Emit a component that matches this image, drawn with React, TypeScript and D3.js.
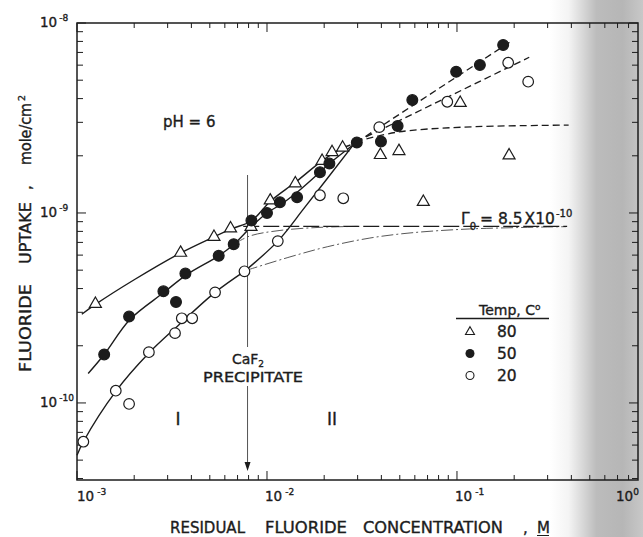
import * as d3 from 'd3';

const W = 643;
const H = 537;

// legend / series
const temps = ['80', '50', '20'];

// 80 C, open triangles
const conc80 = [1.25e-3, 3.51e-3, 5.26e-3, 6.43e-3, 8.24e-3, 1.04e-2, 1.41e-2, 1.95e-2, 2.2e-2, 2.5e-2, 3.95e-2, 4.95e-2, 6.65e-2, 1.04e-1, 1.88e-1];
const uptake80 = [3.34e-10, 6.21e-10, 7.52e-10, 8.34e-10, 8.49e-10, 1.17e-9, 1.44e-9, 1.89e-9, 2.1e-9, 2.22e-9, 2.03e-9, 2.13e-9, 1.15e-9, 3.82e-9, 2.02e-9];

// 50 C, filled circles
const conc50 = [1.39e-3, 1.88e-3, 2.85e-3, 3.32e-3, 3.72e-3, 5.57e-3, 6.68e-3, 8.28e-3, 1.0e-2, 1.17e-2, 1.44e-2, 1.9e-2, 2.13e-2, 2.97e-2, 3.98e-2, 4.87e-2, 5.82e-2, 9.9e-2, 1.32e-1, 1.75e-1];
const uptake50 = [1.8e-10, 2.85e-10, 3.87e-10, 3.4e-10, 4.8e-10, 5.95e-10, 6.85e-10, 9.13e-10, 1.0e-9, 1.14e-9, 1.21e-9, 1.64e-9, 1.82e-9, 2.35e-9, 2.38e-9, 2.87e-9, 3.93e-9, 5.54e-9, 6.01e-9, 7.66e-9];

// 20 C, open circles
const conc20 = [1.08e-3, 1.6e-3, 1.88e-3, 2.39e-3, 3.28e-3, 3.56e-3, 4.04e-3, 5.33e-3, 7.61e-3, 1.14e-2, 1.9e-2, 2.52e-2, 3.9e-2, 8.89e-2, 1.86e-1, 2.37e-1];
const uptake20 = [6.25e-11, 1.16e-10, 9.88e-11, 1.85e-10, 2.33e-10, 2.79e-10, 2.79e-10, 3.82e-10, 4.93e-10, 7.11e-10, 1.24e-9, 1.195e-9, 2.83e-9, 3.85e-9, 6.18e-9, 4.91e-9];

// hand drawn curves [conc, uptake]
const fit80: [number, number][] = [[1.06e-3, 2.93e-10], [1.25e-3, 3.3e-10], [2.0e-3, 4.45e-10], [3.5e-3, 6.15e-10], [5.2e-3, 7.45e-10], [6.5e-3, 8.25e-10], [8.3e-3, 9.1e-10], [1.04e-2, 1.15e-9], [1.41e-2, 1.45e-9], [1.95e-2, 1.88e-9], [2.5e-2, 2.2e-9], [2.75e-2, 2.28e-9]];
const fit50: [number, number][] = [[1.145e-3, 1.43e-10], [1.39e-3, 1.8e-10], [1.9e-3, 2.75e-10], [2.85e-3, 3.8e-10], [3.8e-3, 4.75e-10], [5.57e-3, 5.95e-10], [6.7e-3, 6.85e-10], [8.3e-3, 8.5e-10], [1.0e-2, 1.0e-9], [1.2e-2, 1.12e-9], [1.5e-2, 1.33e-9], [1.9e-2, 1.64e-9], [2.13e-2, 1.82e-9], [2.95e-2, 2.35e-9]];
const fit20a: [number, number][] = [[1.0e-3, 5.3e-11], [1.08e-3, 6.25e-11], [1.6e-3, 1.15e-10], [2.39e-3, 1.83e-10], [3.4e-3, 2.55e-10], [5.33e-3, 3.82e-10], [7.61e-3, 4.93e-10]];
const fit20b: [number, number][] = [[7.61e-3, 4.93e-10], [1.14e-2, 7.11e-10], [1.58e-2, 1.07e-9], [2.9e-2, 2.34e-9]];

const dash50: [number, number][] = [[2.95e-2, 2.35e-9], [1.96e-1, 8.1e-9]];
const dash20: [number, number][] = [[2.94e-2, 2.37e-9], [2.4e-1, 6.6e-9]];
const dash80: [number, number][] = [[2.94e-2, 2.37e-9], [4.8e-2, 2.66e-9], [1.07e-1, 2.83e-9], [3.87e-1, 2.9e-9]];

const ext50: [number, number][] = [[6.7e-3, 6.85e-10], [8.14e-3, 7.57e-10], [1.17e-2, 8.09e-10], [1.9e-2, 8.4e-10], [3.0e-2, 8.5e-10]];
const ext20: [number, number][] = [[7.74e-3, 4.98e-10], [1.32e-2, 5.87e-10], [2.09e-2, 6.65e-10], [3.48e-2, 7.38e-10], [5.66e-2, 7.85e-10], [1.17e-1, 8.24e-10], [3.75e-1, 8.47e-10]];

const gamma0 = 8.5e-10;
const gammaSpan = [7.5e-3, 3.8e-1];
const caF2Conc = 7.9e-3;

const xTicks = [1e-3, 1e-2, 1e-1];
const xTickExp = ['-3', '-2', '-1'];
const yTicks = [1e-8, 1e-9, 1e-10];
const yTickExp = ['-8', '-9', '-10'];

const ink = '#1c1c1c';
const font = "'DejaVu Sans', sans-serif";

export default function App() {
  const x = d3.scaleLog().domain([1e-3, 0.897]).range([77, 638]);
  const y = d3.scaleLog().domain([3.93e-11, 1e-8]).range([480, 23]);
  const [x0, x1] = x.range();
  const [y0, y1] = y.range();

  const line = d3
    .line<[number, number]>()
    .x((d) => x(d[0]))
    .y((d) => y(d[1]))
    .curve(d3.curveCatmullRom.alpha(0.5));

  // minor + major ticks
  const xMinor: number[] = [];
  for (let e = -3; e <= -1; e++) for (let k = 1; k <= 9; k++) xMinor.push(k * Math.pow(10, e));
  const yMinor: number[] = [];
  for (let e = -11; e <= -9; e++) for (let k = 1; k <= 9; k++) yMinor.push(k * Math.pow(10, e));
  const xt = xMinor.filter((v) => v >= 1e-3 && v <= 0.897);
  const yt = yMinor.filter((v) => v >= 3.93e-11 && v <= 1e-8).concat([1e-8]);
  const isMajor = (v: number) => Math.abs(Math.log10(v) - Math.round(Math.log10(v))) < 1e-6;

  const tri = (cx: number, cy: number, s: number) => {
    const h = (s * Math.sqrt(3)) / 2;
    return `M${cx},${cy - h * 0.62}L${cx + s / 2},${cy + h * 0.38}L${cx - s / 2},${cy + h * 0.38}Z`;
  };

  const cx = x(caF2Conc);
  // scanned print looks heavier than plain svg text
  const heavy = { stroke: ink, strokeWidth: 0.35 };

  return (
    <svg width={W} height={H} style={{ display: 'block', position: 'absolute', left: 0, top: 0 }} fontFamily={font}>
      <defs>
        <linearGradient id="shade" x1="0" x2="1" y1="0" y2="0">
          <stop offset="0" stopColor="#ffffff" />
          <stop offset="0.2" stopColor="#f4f4f4" />
          <stop offset="0.5" stopColor="#bcbcbc" />
          <stop offset="0.78" stopColor="#b6b6b6" />
          <stop offset="1" stopColor="#c8c8c8" />
        </linearGradient>
      </defs>
      <rect width={W} height={H} fill="#fff" />
      <rect x={550} y={0} width={W - 550} height={H} fill="url(#shade)" />

      {/* frame */}
      <rect x={x0} y={y1} width={x1 - x0} height={y0 - y1} fill="none" stroke={ink} strokeWidth={1.5} />

      {/* ticks */}
      <g stroke={ink} strokeWidth={1}>
        {xt.map((v, i) => {
          const L = isMajor(v) ? 9 : 5;
          return (
            <g key={'xt' + i}>
              <line x1={x(v)} x2={x(v)} y1={y0} y2={y0 - L} />
              <line x1={x(v)} x2={x(v)} y1={y1} y2={y1 + L} />
            </g>
          );
        })}
        {yt.map((v, i) => {
          const L = isMajor(v) ? 9 : 6;
          return (
            <g key={'yt' + i}>
              <line x1={x0} x2={x0 + L} y1={y(v)} y2={y(v)} />
              <line x1={x1} x2={x1 - L} y1={y(v)} y2={y(v)} />
            </g>
          );
        })}
      </g>

      {/* tick labels */}
      <g fill={ink} fontSize={13.5} {...heavy}>
        {xTicks.map((v, i) => (
          <text key={'xl' + i} x={x(v) - 2 + (i === 0 ? 2 : 0)} y={501}>
            10<tspan dx={3} dy={-6} fontSize={9}>{xTickExp[i]}</tspan>
          </text>
        ))}
        <text x={x1 - 22} y={501}>
          10<tspan dy={-6} fontSize={9}>0</tspan>
        </text>
        {yTicks.map((v, i) => (
          <text key={'yl' + i} x={40} y={y(v) + 4}>
            10<tspan dx={2} dy={-6} fontSize={9}>{yTickExp[i]}</tspan>
          </text>
        ))}
      </g>

      {/* axis titles */}
      <g fill={ink} fontSize={15} {...heavy}>
        <text x={170} y={533} textLength={75} lengthAdjust="spacingAndGlyphs">RESIDUAL</text>
        <text x={265} y={533} textLength={82} lengthAdjust="spacingAndGlyphs">FLUORIDE</text>
        <text x={363} y={533} textLength={140} lengthAdjust="spacingAndGlyphs">CONCENTRATION</text>
        <text x={523} y={533}>,</text>
        <text x={537} y={533}>M</text>
        <line x1={537} x2={549} y1={535.5} y2={535.5} stroke={ink} strokeWidth={1} />
        <g transform="translate(31,0) rotate(-90)">
          <text x={-372} y={0} textLength={88} lengthAdjust="spacingAndGlyphs">FLUORIDE</text>
          <text x={-264} y={0} textLength={62} lengthAdjust="spacingAndGlyphs">UPTAKE</text>
          <text x={-190} y={0}>,</text>
          <text x={-165} y={0} textLength={62} lengthAdjust="spacingAndGlyphs">mole/cm</text>
          <text x={-101} y={-6} fontSize={9.5}>2</text>
        </g>
      </g>

      {/* extrapolated thin curves */}
      <g fill="none" stroke="#444" strokeWidth={0.9} strokeDasharray="12,3,2,3">
        <path d={line(ext50) ?? ''} />
        <path d={line(ext20) ?? ''} />
      </g>
      <line
        x1={x(gammaSpan[0])}
        x2={x(gammaSpan[1])}
        y1={y(gamma0)}
        y2={y(gamma0)}
        stroke={ink}
        strokeWidth={1.1}
        strokeDasharray="16,4"
      />

      {/* solid fits */}
      <g fill="none" stroke={ink} strokeWidth={1.4}>
        <path d={line(fit80) ?? ''} />
        <path d={line(fit50) ?? ''} />
        <path d={line(fit20a) ?? ''} />
        <path d={line(fit20b) ?? ''} />
      </g>

      {/* dashed region III */}
      <g fill="none" stroke={ink} strokeWidth={1.3} strokeDasharray="7,4">
        <path d={line(dash50) ?? ''} />
        <path d={line(dash20) ?? ''} />
        <path d={line(dash80) ?? ''} />
      </g>

      {/* CaF2 precipitate marker */}
      <g stroke="#555" strokeWidth={1}>
        <line x1={cx} x2={cx} y1={175} y2={347} />
        <line x1={cx} x2={cx} y1={386} y2={463} />
      </g>
      <path d={`M${cx - 3},${462}L${cx + 3},${462}L${cx},${471}Z`} fill={ink} />

      {/* markers */}
      <g stroke={ink} strokeWidth={1.2}>
        {conc80.map((c, i) => (
          <path key={'t' + i} d={tri(x(c), y(uptake80[i]), 12)} fill="#fff" />
        ))}
        {conc50.map((c, i) => (
          <circle key={'f' + i} cx={x(c)} cy={y(uptake50[i])} r={5.4} fill={ink} />
        ))}
        {conc20.map((c, i) => (
          <circle key={'o' + i} cx={x(c)} cy={y(uptake20[i])} r={5.3} fill="#fff" />
        ))}
      </g>

      {/* annotations */}
      <g fill={ink} {...heavy}>
        <text x={163} y={127} fontSize={15}>pH = 6</text>
        <text x={248} y={364} fontSize={14} textAnchor="middle">
          CaF<tspan dy={3} fontSize={9}>2</tspan>
        </text>
        <text x={253} y={382} fontSize={14} textAnchor="middle" textLength={100} lengthAdjust="spacingAndGlyphs">PRECIPITATE</text>
        <text x={178} y={425} fontSize={17} textAnchor="middle">I</text>
        <text x={332} y={425} fontSize={17} textAnchor="middle">II</text>
        <text x={461} y={224} fontSize={15.5}>
          Γ<tspan dy={6} fontSize={10}>0</tspan>
          <tspan dy={-6} dx={4}>= 8.5</tspan>
          <tspan dx={2}>X</tspan>
          <tspan>10</tspan>
          <tspan dy={-7} dx={1} fontSize={10}>-10</tspan>
        </text>
      </g>

      {/* legend */}
      <g fill={ink}>
        <text x={479} y={315} fontSize={14} {...heavy}>
          Temp, C<tspan dy={-5} fontSize={9}>o</tspan>
        </text>
        <line x1={456} x2={549} y1={318.5} y2={318.5} stroke={ink} strokeWidth={1.6} />
        {temps.map((t, i) => {
          const ly = 331.5 + i * 22;
          return (
            <g key={'lg' + t}>
              {i === 0 && <path d={tri(470, ly, 9)} fill="#fff" stroke={ink} strokeWidth={1.1} />}
              {i === 1 && <circle cx={470} cy={ly} r={4.5} fill={ink} />}
              {i === 2 && <circle cx={470} cy={ly} r={4} fill="#fff" stroke={ink} strokeWidth={1.1} />}
              <text x={497} y={ly + 5.5} fontSize={15.5} {...heavy}>{t}</text>
            </g>
          );
        })}
      </g>
    </svg>
  );
}
